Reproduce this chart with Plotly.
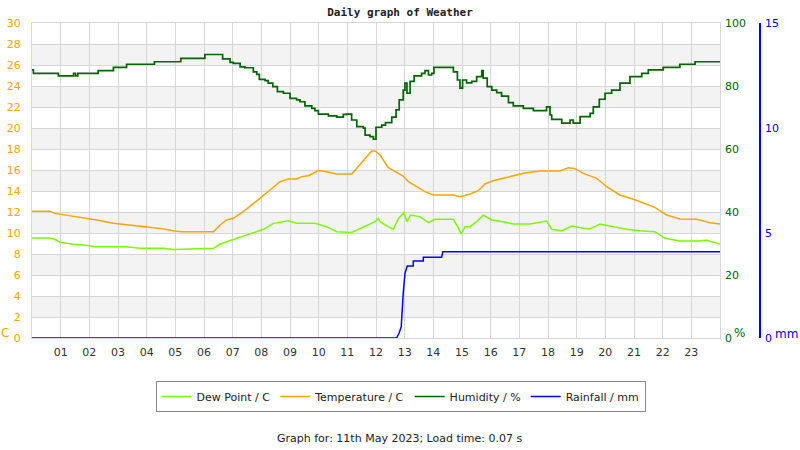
import plotly.graph_objects as go

# ---------------- data ----------------
hum_t = [0.0, 0.05, 0.92, 1.45, 1.52, 1.6, 2.31, 2.84, 3.30, 4.27, 5.19, 6.03, 6.65, 6.91, 7.02,
         7.26, 7.43, 7.72, 7.84, 7.93, 8.13, 8.24, 8.40, 8.56, 8.77, 9.00, 9.23, 9.35, 9.52, 9.76,
         9.87, 9.99, 10.34, 10.63, 10.86, 10.98, 11.15, 11.33, 11.56, 11.62, 11.79, 11.91, 12.0,
         12.2, 12.33, 12.55, 12.70, 12.81, 12.95, 13.01, 13.08, 13.19, 13.33, 13.59, 13.71, 13.83,
         13.94, 14.02, 14.70, 14.84, 14.93, 15.02, 15.16, 15.34, 15.51, 15.69, 15.74, 15.88, 16.04,
         16.21, 16.38, 16.62, 16.79, 17.14, 17.49, 17.95, 18.07, 18.13, 18.48, 18.77, 18.88, 19.12,
         19.47, 19.58, 19.79, 19.99, 20.22, 20.51, 20.86, 21.27, 21.50, 22.02, 22.60, 23.13, 24.0]
hum_v = [85.1, 84.0, 83.2, 84.0, 83.2, 84.0, 84.9, 85.9, 86.9, 87.7, 88.8, 90.0, 88.6, 87.5, 87.2,
         86.1, 85.8, 84.5, 83.7, 82.1, 81.7, 80.9, 79.8, 78.2, 77.7, 76.1, 75.6, 75.0, 73.7, 72.9,
         72.2, 71.1, 70.5, 70.1, 71.0, 71.1, 69.2, 67.1, 66.6, 64.4, 63.9, 63.1, 66.9,
         67.6, 68.4, 70.1, 72.4, 75.6, 78.7, 80.9, 77.7, 81.5, 83.2, 84.0, 84.9, 83.5,
         84.0, 85.9, 84.5, 81.9, 79.3, 81.9, 81.0, 81.5, 83.0, 84.9, 82.5, 79.8, 78.7,
         77.9, 76.8, 74.7, 73.7, 72.9, 72.2, 73.4, 70.8, 69.4, 68.2, 69.2, 68.2, 70.3,
         71.3, 73.4, 75.8, 77.7, 78.7, 80.9, 83.0, 84.0, 85.1, 85.9, 86.9, 87.7, 87.7]

temp_t = [0, 0.63, 0.80, 1.01, 1.44, 1.79, 2.26, 2.84, 3.42, 3.88, 4.47, 4.93, 5.22, 6.33, 6.56,
          6.79, 7.02, 7.37, 7.60, 7.95, 8.30, 8.65, 8.94, 9.24, 9.41, 9.64, 9.99, 10.27, 10.63,
          11.15, 11.33, 11.62, 11.85, 11.97, 12.14, 12.43, 12.66, 12.95, 13.13, 13.42, 13.71,
          14.00, 14.70, 14.93, 15.28, 15.57, 15.80, 16.09, 16.67, 17.14, 17.72, 18.42, 18.71,
          18.93, 19.23, 19.70, 20.05, 20.51, 20.98, 21.32, 21.73, 22.14, 22.60, 23.19, 23.65, 24]
temp_v = [12.07, 12.07, 11.87, 11.78, 11.56, 11.40, 11.24, 10.92, 10.76, 10.60, 10.44, 10.22, 10.12,
          10.12, 10.76, 11.24, 11.40, 12.03, 12.5, 13.30, 14.10, 14.89, 15.14, 15.14, 15.37, 15.45,
          15.94, 15.84, 15.62, 15.62, 16.16, 17.11, 17.81, 17.81, 17.43, 16.22, 15.84, 15.43, 14.89,
          14.41, 13.94, 13.62, 13.62, 13.46, 13.71, 14.03, 14.67, 14.98, 15.37, 15.68, 15.90, 15.90,
          16.22, 16.15, 15.68, 15.21, 14.41, 13.62, 13.21, 12.83, 12.44, 11.71, 11.33, 11.30,
          10.98, 10.86]

dew_t = [0, 0.6, 0.80, 0.98, 1.44, 1.79, 2.26, 3.30, 3.77, 4.58, 4.93, 5.5, 6.33, 6.56, 6.91, 7.37,
         7.72, 8.07, 8.42, 8.94, 9.24, 9.87, 10.27, 10.63, 11.15, 11.56, 11.97, 12.08, 12.14, 12.33,
         12.60, 12.79, 12.97, 13.08, 13.20, 13.53, 13.83, 14.06, 14.70, 14.88, 14.97, 15.11, 15.28,
         15.51, 15.74, 16.04, 16.44, 16.79, 17.37, 17.95, 18.13, 18.48, 18.83, 19.23, 19.47, 19.81,
         20.28, 20.74, 21.20, 21.73, 22.08, 22.60, 23.19, 23.53, 24]
dew_v = [9.52, 9.52, 9.40, 9.11, 8.92, 8.86, 8.70, 8.70, 8.54, 8.54, 8.44, 8.50, 8.54, 8.95, 9.27,
         9.65, 10.03, 10.35, 10.92, 11.17, 10.92, 10.92, 10.60, 10.12, 10.05, 10.60, 11.08, 11.40,
         11.08, 10.76, 10.35, 11.40, 11.94, 11.08, 11.71, 11.56, 10.98, 11.30, 11.30, 10.44, 9.90,
         10.60, 10.60, 11.08, 11.71, 11.24, 11.08, 10.86, 10.86, 11.14, 10.35, 10.22, 10.67, 10.45,
         10.40, 10.86, 10.60, 10.35, 10.22, 10.12, 9.49, 9.24, 9.24, 9.30, 8.95]

rain_t = [0, 12.72, 12.81, 12.88, 12.95, 13.01, 13.09, 13.30, 13.30, 13.65, 13.65, 14.29, 14.33, 24]
rain_v = [0, 0, 0.25, 0.54, 2.13, 3.08, 3.43, 3.43, 3.67, 3.67, 3.84, 3.84, 4.11, 4.11]

hour_ticks = list(range(1, 24))
hour_labels = [f"{h:02d}" for h in hour_ticks]
temp_ticks = list(range(0, 31, 2))
hum_ticks = list(range(0, 101, 20))
rain_ticks = [0, 5, 10, 15]

# ---------------- styles ----------------
C_DEW = "#7CFC00"
C_TEMP = "#FFA500"
C_HUM = "#006400"
C_RAIN = "#0000FF"
GRID = "#d6d6d6"
FONT = "DejaVu Sans"

L, R_PLOT, R_RAIN, T, B = 32, 720, 760, 23, 338
PW = R_RAIN - L            # paper width in px
PH = B - T                 # paper height in px
def px(xp):
    return (xp - L) / PW
def py(yp):
    return (B - yp) / PH

fig = go.Figure()
fig.add_trace(go.Scatter(x=dew_t, y=dew_v, name="Dew Point / C", mode="lines",
                         line=dict(color=C_DEW, width=1.5), yaxis="y"))
fig.add_trace(go.Scatter(x=temp_t, y=temp_v, name="Temperature / C", mode="lines",
                         line=dict(color=C_TEMP, width=1.5), yaxis="y"))
fig.add_trace(go.Scatter(x=hum_t, y=hum_v, name="Humidity / %", mode="lines",
                         line=dict(color=C_HUM, width=1.7, shape="hv"), yaxis="y2"))
fig.add_trace(go.Scatter(x=rain_t, y=rain_v, name="Rainfall / mm", mode="lines",
                         line=dict(color=C_RAIN, width=1.5), yaxis="y3"))

# alternating bands
shapes = []
for lo in temp_ticks[1:-1:2]:
    shapes.append(dict(type="rect", xref="x domain", yref="y", x0=0, x1=1, y0=lo, y1=lo + 2,
                       fillcolor="#f3f3f3", line=dict(width=0), layer="below"))

fig.update_layout(
    width=800, height=450,
    margin=dict(l=L, r=800 - R_RAIN, t=T, b=450 - B, autoexpand=False),
    paper_bgcolor="white", plot_bgcolor="white",
    font=dict(family=FONT, size=11, color="#333"),
    showlegend=True,
    shapes=shapes,
    xaxis=dict(range=[0, 24], domain=[0, px(R_PLOT)], tickvals=hour_ticks, ticktext=hour_labels,
               showgrid=True, gridcolor=GRID, gridwidth=1, zeroline=False,
               showline=True, linecolor=GRID, mirror=True, ticks="", automargin=False,
               tickfont=dict(size=11, color="#333"), ticklabelstandoff=4),
    yaxis=dict(range=[0, 30], tickvals=temp_ticks, showgrid=True, gridcolor=GRID,
               zeroline=False, showline=True, linecolor=GRID, mirror=True, ticks="",
               automargin=False, tickfont=dict(size=11, color=C_TEMP), ticklabelstandoff=8),
    yaxis2=dict(range=[0, 100], tickvals=hum_ticks, overlaying="y", side="right",
                showgrid=False, zeroline=False, ticks="", automargin=False,
                tickfont=dict(size=11, color=C_HUM), ticklabelstandoff=4),
    yaxis3=dict(range=[0, 15], tickvals=rain_ticks, overlaying="y", side="right",
                anchor="free", position=1.0, showgrid=False, zeroline=False,
                showline=True, linecolor=C_RAIN, linewidth=1.5, ticks="", automargin=False,
                tickfont=dict(size=11, color=C_RAIN), ticklabelstandoff=2),
    legend=dict(orientation="h", x=px(400.5), xanchor="center", y=py(381), yanchor="top",
                bordercolor="#888", borderwidth=1, font=dict(size=11, color="#222"),
                tracegroupgap=0, itemwidth=30),
    title=dict(text="<b>Daily graph of Weather</b>", x=0.5, xanchor="center",
               y=1 - 12 / 450, yanchor="middle",
               font=dict(family="DejaVu Sans Mono", size=11, color="#222")),
    annotations=[
        dict(text="C", xref="paper", yref="paper", x=px(5.5), y=py(333), showarrow=False,
             font=dict(size=12, color=C_TEMP), xanchor="center", yanchor="middle"),
        dict(text="%", xref="paper", yref="paper", x=px(739), y=py(333), showarrow=False,
             font=dict(size=12, color=C_HUM), xanchor="center", yanchor="middle"),
        dict(text="mm", xref="paper", yref="paper", x=px(786), y=py(334), showarrow=False,
             font=dict(size=12, color=C_RAIN), xanchor="center", yanchor="middle"),
        dict(text="Graph for: 11th May 2023; Load time: 0.07 s", xref="paper", yref="paper",
             x=px(400), y=py(438), showarrow=False,
             font=dict(size=11, color="#222"), xanchor="center", yanchor="middle"),
    ],
)

fig.write_html("out.html")
